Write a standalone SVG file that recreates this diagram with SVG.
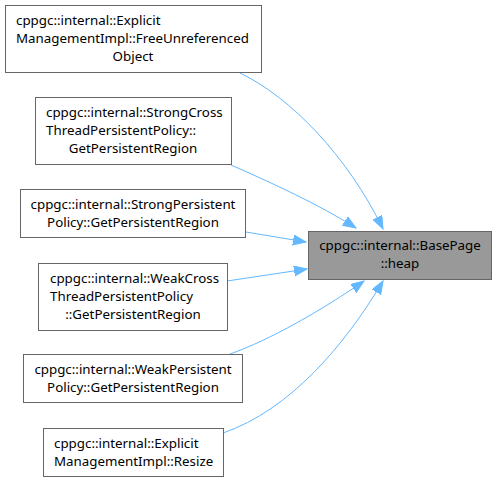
<svg xmlns="http://www.w3.org/2000/svg" width="496" height="482" viewBox="0 0 496 482">
<style>
.n rect{fill:#fff;stroke:#666;stroke-width:1}
.t rect{fill:#999;stroke:#666;stroke-width:1}
text{font-family:"Noto Sans",sans-serif;font-size:13.33px;fill:#000}
.m{text-anchor:middle}
.e path{fill:none;stroke:#63b8ff;stroke-width:1;marker-end:url(#a)}
</style>
<defs>
<marker id="a" markerWidth="14" markerHeight="12" refX="13" refY="5" orient="auto" markerUnits="userSpaceOnUse">
<path d="M0,0 L13,5 L0,10 Z" fill="#63b8ff" stroke="#63b8ff"/>
</marker>
</defs>
<g class="e">
<path d="M240,73 C290,97 347,155 383,229"/>
<path d="M231,165 C270,182 320,205 356,228"/>
<path d="M246,232 L306,242"/>
<path d="M227,281 L307,269"/>
<path d="M230,354 C270,340 322,310 364,281"/>
<path d="M223,433 C290,410 345,345 383,281"/>
</g>
<g id="n1" class="n"><rect x="5.5" y="5.5" width="256" height="67"/>
<text x="16" y="25">cppgc::internal::Explicit</text>
<text x="16" y="43">ManagementImpl::FreeUnreferenced</text>
<text x="133" y="61" class="m">Object</text></g>
<g id="n2" class="n"><rect x="35.5" y="97.5" width="196" height="67"/>
<text x="46" y="117">cppgc::internal::StrongCross</text>
<text x="46" y="135">ThreadPersistentPolicy::</text>
<text x="133" y="153" class="m">GetPersistentRegion</text></g>
<g id="n3" class="n"><rect x="20.5" y="189.5" width="225" height="48"/>
<text x="133" y="209" class="m">cppgc::internal::StrongPersistent</text>
<text x="133" y="227" class="m">Policy::GetPersistentRegion</text></g>
<g id="n4" class="n"><rect x="38.5" y="263.5" width="189" height="67"/>
<text x="50" y="283">cppgc::internal::WeakCross</text>
<text x="50" y="301">ThreadPersistentPolicy</text>
<text x="133" y="319" class="m">::GetPersistentRegion</text></g>
<g id="n5" class="n"><rect x="23.5" y="354.5" width="219" height="48"/>
<text x="133" y="374" class="m">cppgc::internal::WeakPersistent</text>
<text x="133" y="392" class="m">Policy::GetPersistentRegion</text></g>
<g id="n6" class="n"><rect x="43.5" y="428.5" width="180" height="48"/>
<text x="54" y="448">cppgc::internal::Explicit</text>
<text x="54" y="466">ManagementImpl::Resize</text></g>
<g id="target" class="t"><rect x="308.5" y="231.5" width="183" height="48"/>
<text x="400" y="250" class="m">cppgc::internal::BasePage</text>
<text x="400" y="268" class="m">::heap</text></g>
</svg>
